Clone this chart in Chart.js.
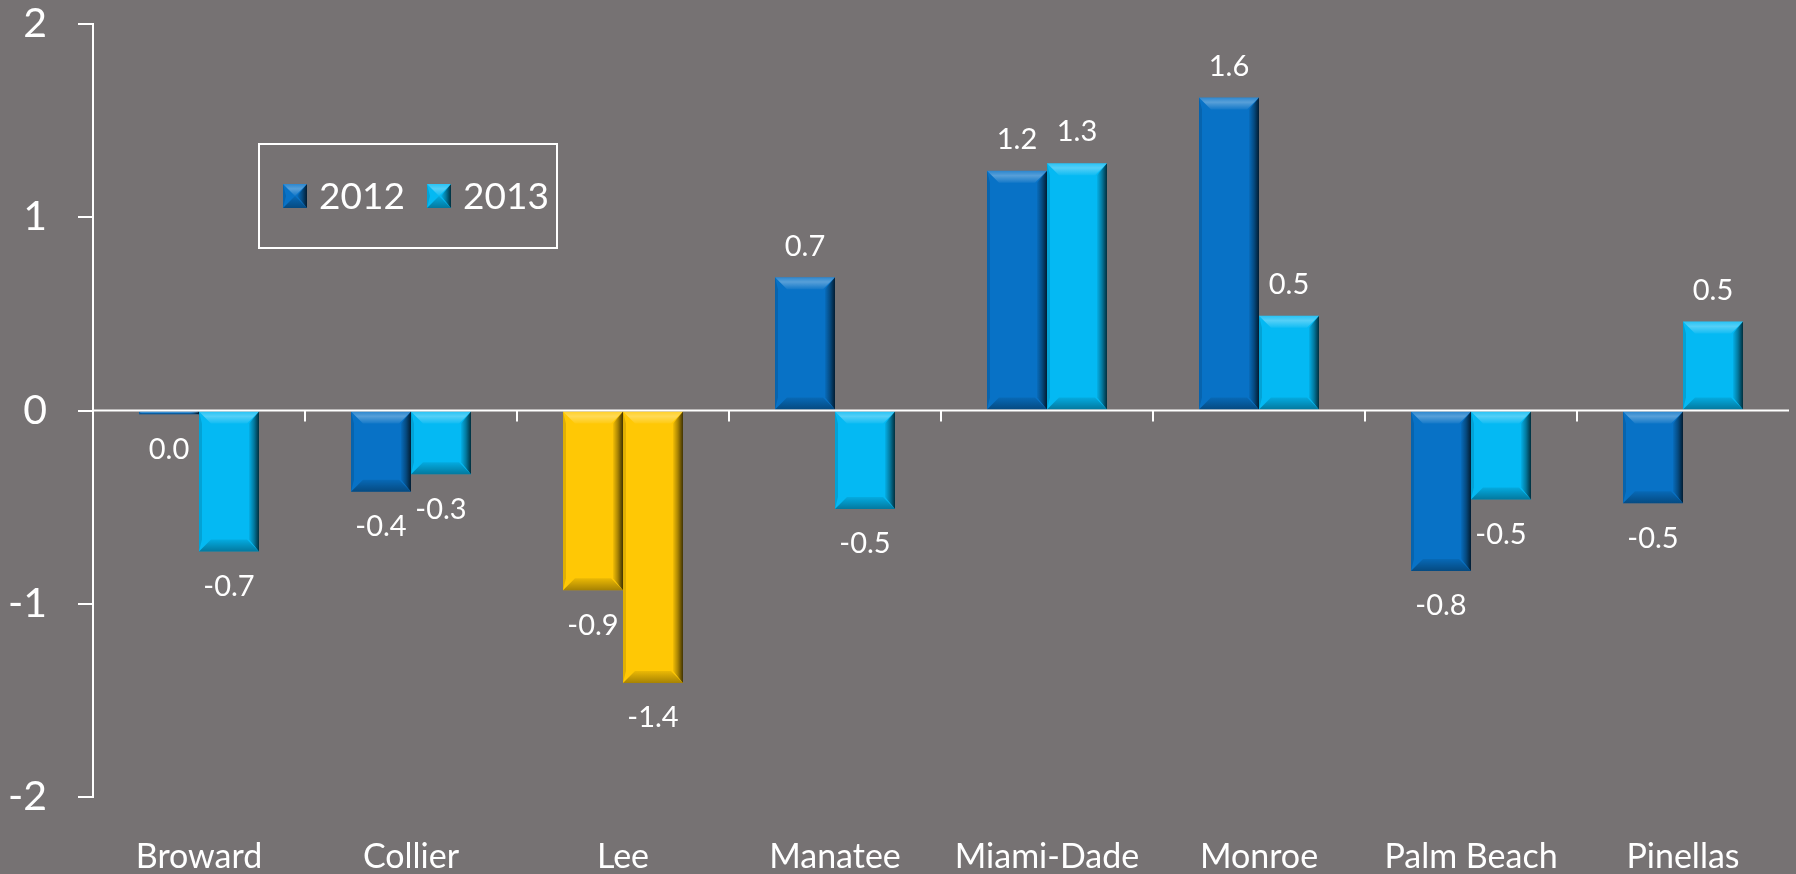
<!DOCTYPE html>
<html><head><meta charset="utf-8">
<script src="https://cdn.jsdelivr.net/npm/chart.js@4/dist/chart.umd.min.js"></script>
<style>html,body{margin:0;padding:0;background:#767273;overflow:hidden;} canvas{display:block;}</style>
</head><body>
<canvas id="c" width="1796" height="874"></canvas>
<script>
// ---- data ----
const categories = ['Broward','Collier','Lee','Manatee','Miami-Dade','Monroe','Palm Beach','Pinellas'];
const seriesNames = ['2012','2013'];
const values2012 = [-0.02, -0.42, -0.93, 0.69, 1.24, 1.62, -0.83, -0.48];
const values2013 = [-0.73, -0.33, -1.41, -0.51, 1.28, 0.49, -0.46, 0.46];
const yTicks = [-2, -1, 0, 1, 2];
const highlightCategory = 'Lee';

// ---- style ----
const COL2012 = '#0872C6';
const COL2013 = '#04B9F3';
const COLHI = '#FFC805';
const FONT = 'Lato, "Open Sans", sans-serif';

function colorsFor(base) {
  return categories.map(c => c === highlightCategory ? COLHI : base);
}

function fmt(v) {
  let s = (Math.round(v * 10) / 10).toFixed(1);
  if (s === '-0.0') s = '0.0';
  return s;
}

function drawBevel(ctx, l, t, r, b) {
  const w = r - l, h = b - t;
  if (h < 1) return;
  const d = Math.min(12, h / 2, w / 2);
  const dr = Math.min(6, w / 4);
  ctx.fillStyle = 'rgba(0,0,0,0.12)';
  ctx.beginPath();
  ctx.moveTo(l, t); ctx.lineTo(l + 3, t + d); ctx.lineTo(l + 3, b - d); ctx.lineTo(l, b);
  ctx.closePath(); ctx.fill();
  let g = ctx.createLinearGradient(r - dr - 4, 0, r, 0);
  g.addColorStop(0, 'rgba(0,0,0,0.05)');
  g.addColorStop(0.5, 'rgba(0,0,0,0.35)');
  g.addColorStop(1, 'rgba(0,0,0,0.75)');
  ctx.fillStyle = g;
  ctx.beginPath();
  ctx.moveTo(r, t); ctx.lineTo(r, b); ctx.lineTo(r - dr - 4, b - d); ctx.lineTo(r - dr - 4, t + d);
  ctx.closePath(); ctx.fill();
  g = ctx.createLinearGradient(0, t, 0, t + d);
  g.addColorStop(0, 'rgba(255,255,255,0.15)');
  g.addColorStop(0.4, 'rgba(255,255,255,0.32)');
  g.addColorStop(1, 'rgba(255,255,255,0.05)');
  ctx.fillStyle = g;
  ctx.beginPath();
  ctx.moveTo(l, t); ctx.lineTo(r, t); ctx.lineTo(r - d, t + d); ctx.lineTo(l + d, t + d);
  ctx.closePath(); ctx.fill();
  g = ctx.createLinearGradient(0, b - d, 0, b);
  g.addColorStop(0, 'rgba(0,0,0,0.08)');
  g.addColorStop(1, 'rgba(0,0,0,0.35)');
  ctx.fillStyle = g;
  ctx.beginPath();
  ctx.moveTo(l, b); ctx.lineTo(r, b); ctx.lineTo(r - d, b - d); ctx.lineTo(l + d, b - d);
  ctx.closePath(); ctx.fill();
}

const decorPlugin = {
  id: 'decor',
  beforeDraw(chart) {
    const ctx = chart.ctx;
    ctx.save();
    ctx.fillStyle = '#767273';
    ctx.fillRect(0, 0, chart.width, chart.height);
    ctx.restore();
  },
  afterDatasetsDraw(chart) {
    const ctx = chart.ctx;
    const ys = chart.scales.y, xs = chart.scales.x;
    const area = chart.chartArea;
    ctx.save();
    chart.data.datasets.forEach((ds, di) => {
      const meta = chart.getDatasetMeta(di);
      meta.data.forEach((bar) => {
        const p = bar.getProps(['x', 'y', 'base', 'width'], true);
        const l = p.x - p.width / 2, r = p.x + p.width / 2;
        const t = Math.min(p.y, p.base), b = Math.max(p.y, p.base);
        drawBevel(ctx, l, t, r, b);
      });
    });
    // zero line with category ticks
    const y0 = ys.getPixelForValue(0);
    ctx.strokeStyle = '#ffffff';
    ctx.lineWidth = 2;
    ctx.beginPath();
    ctx.moveTo(area.left, y0); ctx.lineTo(area.right, y0);
    ctx.stroke();
    const n = categories.length;
    const cw = (area.right - area.left) / n;
    for (let i = 1; i < n; i++) {
      const x = Math.round(xs.getPixelForValue(i - 1) + cw / 2);
      ctx.beginPath();
      ctx.moveTo(x, y0); ctx.lineTo(x, y0 + 11);
      ctx.stroke();
    }
    // data labels
    ctx.fillStyle = '#ffffff';
    ctx.font = '29px ' + FONT;
    ctx.textAlign = 'center';
    ctx.textBaseline = 'middle';
    chart.data.datasets.forEach((ds, di) => {
      const meta = chart.getDatasetMeta(di);
      meta.data.forEach((bar, i) => {
        const v = ds.data[i];
        const p = bar.getProps(['x', 'y', 'base'], true);
        const yy = v >= 0 ? Math.min(p.y, p.base) - 31 : Math.max(p.y, p.base) + 35;
        ctx.fillText(fmt(v), p.x, yy);
      });
    });
    // legend
    const bx = 259, by = 144, bw = 298, bh = 104;
    ctx.strokeStyle = '#ffffff';
    ctx.lineWidth = 2;
    ctx.strokeRect(bx, by, bw, bh);
    const entries = [[283, 319], [427, 463]];
    ctx.font = '37px ' + FONT;
    ctx.textAlign = 'left';
    ctx.textBaseline = 'middle';
    chart.data.datasets.forEach((ds, di) => {
      const [sx, tx] = entries[di];
      ctx.fillStyle = ds.legendColor;
      ctx.fillRect(sx, 184, 24, 24);
      drawBevel(ctx, sx, 184, sx + 24, 208);
      ctx.fillStyle = '#ffffff';
      ctx.fillText(ds.label, tx, 197);
    });
    ctx.restore();
  }
};

new Chart(document.getElementById('c'), {
  type: 'bar',
  data: {
    labels: categories,
    datasets: [
      { label: seriesNames[0], data: values2012, backgroundColor: colorsFor(COL2012), legendColor: COL2012, borderWidth: 0 },
      { label: seriesNames[1], data: values2013, backgroundColor: colorsFor(COL2013), legendColor: COL2013, borderWidth: 0 }
    ]
  },
  options: {
    responsive: false,
    devicePixelRatio: 1,
    animation: false,
    layout: { padding: { left: 0, right: 7, top: 0, bottom: 0 } },
    plugins: { legend: { display: false }, tooltip: { enabled: false } },
    datasets: { bar: { categoryPercentage: 0.566, barPercentage: 1.0 } },
    scales: {
      x: {
        grid: { display: false, drawTicks: false },
        border: { display: false },
        ticks: { color: '#ffffff', font: { family: FONT, size: 34 }, padding: 40, maxRotation: 0, autoSkip: false },
        afterFit(s) { s.height = 77; s.paddingLeft = 0; s.paddingRight = 0; }
      },
      y: {
        min: -2, max: 2,
        afterBuildTicks(s) { s.ticks = yTicks.map(v => ({ value: v })); },
        grid: { drawOnChartArea: false, drawTicks: true, tickLength: 15, color: '#ffffff', lineWidth: 2 },
        border: { display: true, color: '#ffffff', width: 2 },
        ticks: { color: '#ffffff', font: { family: FONT, size: 41 }, padding: 31 },
        afterFit(s) { s.width = 93; s.paddingTop = 24; s.paddingBottom = 0; }
      }
    }
  },
  plugins: [decorPlugin]
});
</script>
</body></html>
